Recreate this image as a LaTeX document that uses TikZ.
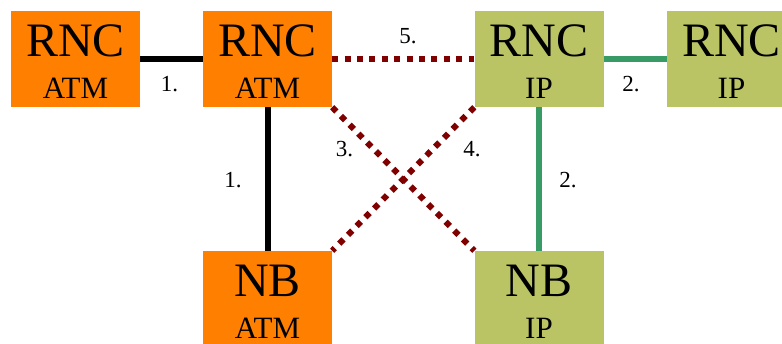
\documentclass[tikz,border=0pt]{standalone}
\usepackage{fontspec}
\setmainfont{Liberation Serif}
\definecolor{atmorange}{RGB}{255,128,0}
\definecolor{ipgreen}{RGB}{187,196,101}
\definecolor{iplinkgreen}{RGB}{56,154,101}
\definecolor{mixred}{RGB}{128,0,0}
\newcommand{\bigtxt}[1]{{\fontsize{48}{42}\selectfont #1}}

\begin{document}
\begin{tikzpicture}[x=1pt,y=-1pt,
    box/.style={minimum width=129pt,text height=88pt,text depth=8pt,inner sep=0pt,align=center,font=\fontsize{31}{42}\selectfont},
    atmbox/.style={box,fill=atmorange},
    ipbox/.style={box,fill=ipgreen},
    num/.style={font=\fontsize{23}{23}\selectfont,inner sep=0pt},
    atmlink/.style={line width=6pt,black},
    iplink/.style={line width=6pt,iplinkgreen},
    mixlink/.style={line width=6pt,mixred,dash pattern=on 6pt off 6.4pt}]
        \useasboundingbox (0,0) rectangle (782,344);
        \node[atmbox] (rncA) at (75.5,59) {\bigtxt{RNC}\\ATM};
        \node[atmbox] (rncB) at (267.5,59) {\bigtxt{RNC}\\ATM};
        \node[ipbox] (rncC) at (539,59) {\bigtxt{RNC}\\IP};
        \node[ipbox] (rncD) at (731.5,59) {\bigtxt{RNC}\\IP};
        \node[atmbox] (nbA) at (267.5,299) {\bigtxt{NB}\\ATM};
        \node[ipbox] (nbB) at (539,299) {\bigtxt{NB}\\IP};
        % links
        \draw[atmlink] (rncA) -- (rncB);
        \draw[atmlink] (rncB) -- (nbA);
        \draw[iplink] (rncC) -- (rncD);
        \draw[iplink] (rncC) -- (nbB);
        \draw[mixlink] (rncB) -- (rncC);
        \draw[mixlink] (rncB.south east) -- (nbB.north west);
        \draw[mixlink] (rncC.south west) -- (nbA.north east);
        % link numbers
        \node[num] (nAB) at (169.5,84) {1.};
        \node[num] (nBC) at (408,36) {5.};
        \node[num] (nCD) at (631,84) {2.};
        \node[num] (nBnb) at (233,180.5) {1.};
        \node[num] (nX1) at (344.5,149.5) {3.};
        \node[num] (nX2) at (472,149.5) {4.};
        \node[num] (nCnb) at (568,180.5) {2.};
\end{tikzpicture}
\end{document}
